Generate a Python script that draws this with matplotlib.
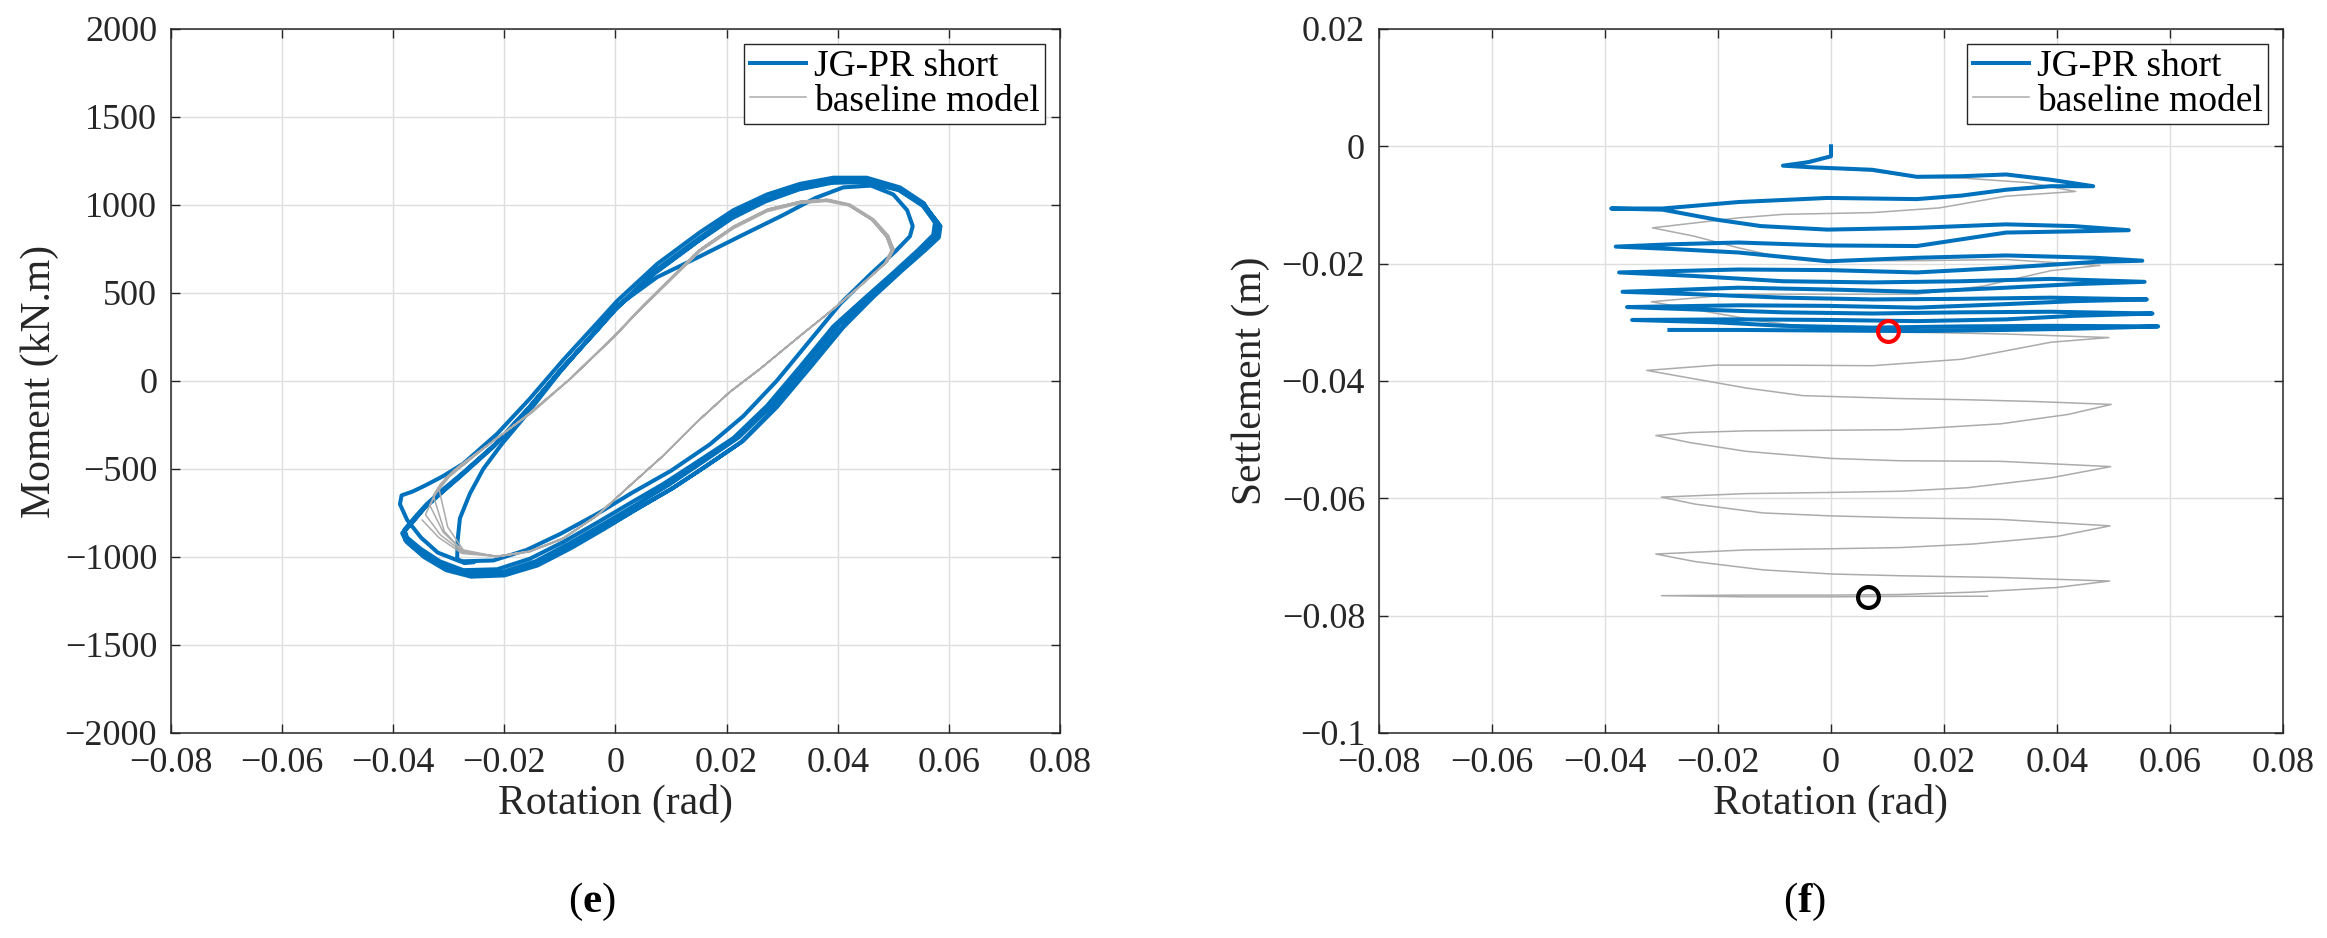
import numpy as np
import matplotlib
matplotlib.use('Agg')
import matplotlib.pyplot as plt
from matplotlib.ticker import FuncFormatter


plt.rcParams['font.family'] = ['Liberation Serif', 'DejaVu Serif']
plt.rcParams['mathtext.fontset'] = 'custom'
plt.rcParams['mathtext.rm'] = 'Liberation Serif'
plt.rcParams['mathtext.bf'] = 'Liberation Serif:bold'

blue = '#0072BD'
grey = '#ababab'
dark = '#262626'

rot_ticks = [-0.08, -0.06, -0.04, -0.02, 0, 0.02, 0.04, 0.06, 0.08]
mom_ticks = [-2000, -1500, -1000, -500, 0, 500, 1000, 1500, 2000]
set_ticks = [-0.1, -0.08, -0.06, -0.04, -0.02, 0, 0.02]


# (e) JG-PR short, moment vs rotation, one list pair per half cycle.
jg_e_rot_0 = [-0.0256, -0.0272, -0.0285, -0.0284, -0.0280, -0.0262, -0.0238, -0.0205, -0.0160, -0.0100, -0.0040,
              0.0003, 0.0075, 0.0152, 0.0224, 0.0300, 0.0360, 0.0410, 0.0460, 0.0500, 0.0525, 0.0535, 0.0530]
jg_e_mom_0 = [-1030, -1035, -1010, -900, -780, -640, -500, -360, -190, 50, 270,
              425, 590, 708, 822, 940, 1040, 1100, 1110, 1060, 970, 880, 822]
jg_e_rot_1 = [0.0505, 0.0460, 0.0405, 0.0350, 0.0290, 0.0230, 0.0170, 0.0100, 0.0030, -0.0030, -0.0100,
              -0.0160, -0.0220, -0.0280, -0.0320, -0.0350, -0.0375, -0.0388, -0.0385, -0.0365]
jg_e_mom_1 = [740, 610, 440, 230, 0, -200, -360, -510, -635, -750, -870,
              -960, -1020, -1025, -975, -890, -790, -700, -650, -628]
jg_e_rot_2 = [-0.0340, -0.0310, -0.0274, -0.0213, -0.0154, -0.0094, -0.0033, 0.0003, 0.0075, 0.0152, 0.0212,
              0.0273, 0.0332, 0.0392, 0.0452, 0.0512, 0.0555, 0.0575, 0.0572]
jg_e_mom_2 = [-590, -540, -470, -300, -100, 120, 330, 455, 665, 845, 970,
              1060, 1120, 1155, 1155, 1100, 1010, 900, 830]
jg_e_rot_3 = [0.0545, 0.0500, 0.0450, 0.0392, 0.0332, 0.0273, 0.0212, 0.0147, 0.0086, 0.0026, -0.0033,
              -0.0094, -0.0154, -0.0213, -0.0274, -0.0316, -0.0350, -0.0375, -0.0380]
jg_e_mom_3 = [745, 615, 475, 310, 80, -140, -325, -460, -585, -695, -805,
              -915, -1010, -1070, -1075, -1025, -955, -890, -845]
jg_e_rot_4 = [-0.0360, -0.0340, -0.0310, -0.0274, -0.0213, -0.0154, -0.0094, -0.0033, 0.0003, 0.0075, 0.0152,
              0.0212, 0.0273, 0.0332, 0.0392, 0.0452, 0.0512, 0.0555, 0.0582, 0.0580]
jg_e_mom_4 = [-770, -700, -615, -520, -350, -145, 80, 290, 420, 635, 815,
              945, 1035, 1100, 1135, 1138, 1090, 1005, 890, 830]
jg_e_rot_5 = [0.0555, 0.0510, 0.0460, 0.0402, 0.0342, 0.0283, 0.0222, 0.0157, 0.0096, 0.0036, -0.0023,
              -0.0084, -0.0144, -0.0203, -0.0264, -0.0310, -0.0350, -0.0378, -0.0382]
jg_e_mom_5 = [760, 630, 490, 320, 90, -135, -320, -460, -590, -705, -815,
              -925, -1025, -1085, -1095, -1050, -975, -905, -860]
jg_e_rot_6 = [-0.0362, -0.0342, -0.0312, -0.0278, -0.0218, -0.0158, -0.0098, -0.0037, 0.0000, 0.0072, 0.0150,
              0.0210, 0.0270, 0.0330, 0.0390, 0.0450, 0.0510, 0.0555, 0.0585, 0.0582]
jg_e_mom_6 = [-790, -715, -630, -535, -365, -160, 65, 275, 405, 620, 800,
              932, 1025, 1092, 1130, 1134, 1088, 1000, 880, 815]
jg_e_rot_7 = [0.0560, 0.0515, 0.0465, 0.0410, 0.0350, 0.0290, 0.0230, 0.0165, 0.0105, 0.0045, -0.0015,
              -0.0075, -0.0135, -0.0195, -0.0255, -0.0300, -0.0345, -0.0376, -0.0384]
jg_e_mom_7 = [750, 625, 480, 305, 75, -150, -340, -480, -605, -715, -825,
              -935, -1035, -1095, -1105, -1065, -990, -915, -865]
jg_e_rot_8 = [-0.0365, -0.0345, -0.0315, -0.0280, -0.0220, -0.0160, -0.0100, -0.0040, -0.0005, 0.0070, 0.0148,
              0.0210, 0.0270, 0.0330, 0.0390, 0.0450, 0.0510, 0.0553, 0.0580, 0.0578]
jg_e_mom_8 = [-800, -725, -640, -545, -375, -170, 55, 265, 395, 610, 792,
              925, 1020, 1088, 1126, 1130, 1084, 995, 880, 810]
jg_e_rot_9 = [0.0555, 0.0510, 0.0460, 0.0405, 0.0345, 0.0285, 0.0225, 0.0160, 0.0100, 0.0040, -0.0020,
              -0.0080, -0.0140, -0.0200, -0.0260, -0.0305, -0.0345, -0.0372, -0.0378]
jg_e_mom_9 = [745, 620, 475, 295, 65, -160, -350, -490, -615, -725, -840,
              -950, -1048, -1105, -1112, -1075, -1000, -925, -875]

# (e) baseline model.
base_e_rot_0 = [-0.0020, 0.0050, 0.0152, 0.0212, 0.0273, 0.0332, 0.0380, 0.0420, 0.0463, 0.0488, 0.0496]
base_e_mom_0 = [200, 420, 735, 865, 962, 1008, 1020, 995, 912, 815, 740]
base_e_rot_1 = [0.0484, 0.0437, 0.0389, 0.0329, 0.0257, 0.0203, 0.0144, 0.0083, 0.0023, -0.0036, -0.0097,
                -0.0157, -0.0216, -0.0274, -0.0302, -0.0318]
base_e_mom_1 = [668, 530, 400, 248, 60, -70, -240, -432, -602, -770, -898,
                -970, -996, -960, -830, -610]
base_e_rot_2 = [-0.0318, -0.0305, -0.0280, -0.0250, -0.0200, -0.0150, -0.0080, 0.0000, 0.0050, 0.0152, 0.0212,
                0.0273, 0.0332, 0.0380, 0.0420, 0.0463, 0.0490, 0.0500]
base_e_mom_2 = [-610, -550, -480, -410, -295, -180, 15, 255, 425, 740, 872,
                970, 1016, 1028, 1000, 915, 820, 745]
base_e_rot_3 = [0.0488, 0.0440, 0.0392, 0.0332, 0.0260, 0.0206, 0.0147, 0.0086, 0.0026, -0.0033, -0.0094,
                -0.0154, -0.0213, -0.0274, -0.0310, -0.0334]
base_e_mom_3 = [674, 538, 408, 255, 68, -62, -232, -425, -595, -765, -895,
                -969, -997, -969, -860, -708]
base_e_rot_4 = [-0.0334, -0.0320, -0.0295, -0.0262, -0.0208, -0.0159, -0.0082, 0.0000, 0.0050, 0.0152, 0.0212,
                0.0273, 0.0332, 0.0380, 0.0420, 0.0463, 0.0490, 0.0502]
base_e_mom_4 = [-708, -615, -525, -442, -312, -195, 10, 260, 430, 748, 878,
                975, 1020, 1031, 1003, 918, 822, 748]
base_e_rot_5 = [0.0490, 0.0442, 0.0394, 0.0334, 0.0262, 0.0208, 0.0149, 0.0088, 0.0028, -0.0031, -0.0092,
                -0.0152, -0.0211, -0.0274, -0.0315, -0.0342]
base_e_mom_5 = [680, 545, 415, 262, 75, -55, -225, -418, -588, -758, -890,
                -965, -995, -975, -875, -760]
base_e_rot_6 = [-0.0342, -0.0326, -0.0300, -0.0266, -0.0212, -0.0162, -0.0085, -0.0003, 0.0048, 0.0150, 0.0210,
                0.0271, 0.0330, 0.0378, 0.0418, 0.0460, 0.0487, 0.0497]
base_e_mom_6 = [-760, -650, -548, -458, -322, -202, 5, 255, 425, 742, 872,
                970, 1016, 1027, 1000, 916, 820, 745]
base_e_rot_7 = [0.0486, 0.0438, 0.0390, 0.0330, 0.0258, 0.0204, 0.0145, 0.0084, 0.0024, -0.0035, -0.0096,
                -0.0156, -0.0215, -0.0276, -0.0308, -0.0328]
base_e_mom_7 = [670, 534, 404, 250, 62, -68, -238, -430, -600, -770, -900,
                -972, -999, -965, -855, -650]
base_e_rot_8 = [-0.0328, -0.0315, -0.0290, -0.0258, -0.0205, -0.0156, -0.0080, 0.0002, 0.0052, 0.0154, 0.0214,
                0.0275, 0.0334, 0.0382, 0.0422, 0.0465, 0.0492, 0.0500]
base_e_mom_8 = [-650, -585, -505, -430, -305, -188, 15, 265, 435, 752, 882,
                978, 1022, 1033, 1005, 920, 825, 750]
base_e_rot_9 = [0.0489, 0.0441, 0.0393, 0.0333, 0.0261, 0.0207, 0.0148, 0.0087, 0.0027, -0.0032, -0.0093,
                -0.0153, -0.0212, -0.0276, -0.0318, -0.0348]
base_e_mom_9 = [676, 540, 410, 258, 70, -60, -230, -422, -592, -762, -893,
                -968, -998, -980, -890, -790]


# (f) JG-PR short, settlement vs rotation (one line per half cycle).
jg_f_rot = [0.0, 0.0, -0.0040, -0.0085,
            -0.0030, 0.0073, 0.0152, 0.0231, 0.0310, 0.0389, 0.0464,
            0.0389, 0.0310, 0.0231, 0.0152, -0.0006, -0.0164, -0.0298, -0.0389,
            -0.0298, -0.0203, -0.0124, -0.0006, 0.0152, 0.0310, 0.0429, 0.0527,
            0.0429, 0.0310, 0.0152, -0.0006, -0.0164, -0.0282, -0.0381,
            -0.0282, -0.0164, -0.0006, 0.0152, 0.0310, 0.0468, 0.0551,
            0.0468, 0.0310, 0.0152, -0.0006, -0.0164, -0.0375,
            -0.0243, -0.0085, 0.0073, 0.0231, 0.0389, 0.0555,
            0.0429, 0.0310, 0.0152, -0.0006, -0.0164, -0.0369,
            -0.0243, -0.0085, 0.0073, 0.0231, 0.0389, 0.0559,
            0.0429, 0.0310, 0.0152, -0.0006, -0.0164, -0.0361,
            -0.0243, -0.0085, 0.0073, 0.0231, 0.0389, 0.0569,
            0.0429, 0.0310, 0.0152, -0.0006, -0.0164, -0.0352,
            -0.0203, -0.0085, 0.0073, 0.0231, 0.0389, 0.0579,
            0.0429, 0.0310, 0.0152, -0.0006, -0.0164, -0.0286]
jg_f_set = [0.0, -0.0017, -0.0027, -0.0033,
            -0.0036, -0.0040, -0.0052, -0.0051, -0.0048, -0.0057, -0.0068,
            -0.0068, -0.0074, -0.0084, -0.0090, -0.0088, -0.0095, -0.0106, -0.0106,
            -0.0108, -0.0125, -0.0136, -0.0142, -0.0139, -0.0133, -0.0136, -0.0143,
            -0.0145, -0.0147, -0.0170, -0.0169, -0.0164, -0.0167, -0.0171,
            -0.0175, -0.0181, -0.0196, -0.0190, -0.0186, -0.0190, -0.0195,
            -0.0197, -0.0207, -0.0215, -0.0211, -0.0210, -0.0215,
            -0.0221, -0.0230, -0.0232, -0.0230, -0.0226, -0.0231,
            -0.0235, -0.0241, -0.0248, -0.0244, -0.0241, -0.0248,
            -0.0252, -0.0258, -0.0261, -0.0260, -0.0258, -0.0261,
            -0.0264, -0.0269, -0.0275, -0.0272, -0.0271, -0.0274,
            -0.0278, -0.0283, -0.0285, -0.0283, -0.0282, -0.0285,
            -0.0289, -0.0295, -0.0298, -0.0296, -0.0295, -0.0296,
            -0.0300, -0.0306, -0.0309, -0.0307, -0.0306, -0.0307,
            -0.0311, -0.0313, -0.0315, -0.0314, -0.0313, -0.0313]

# (f) baseline model.
base_f_rot = [0.0, 0.0, -0.0080, -0.0020, 0.0070, 0.0150, 0.0231, 0.0350, 0.0433,
              0.0310, 0.0192, 0.0073, -0.0085, -0.0164, -0.0316,
              -0.0243, -0.0164, -0.0085, -0.0006, 0.0152, 0.0310, 0.0476,
              0.0389, 0.0271, 0.0152, -0.0006, -0.0164, -0.0318,
              -0.0243, -0.0124, -0.0006, 0.0152, 0.0310, 0.0492,
              0.0389, 0.0231, 0.0073, -0.0085, -0.0203, -0.0326,
              -0.0250, -0.0150, -0.0050, 0.0122, 0.0241, 0.0360, 0.0496,
              0.0420, 0.0301, 0.0182, 0.0122, 0.0, -0.0150, -0.0250, -0.0310,
              -0.0250, -0.0150, 0.0, 0.0122, 0.0301, 0.0495,
              0.0390, 0.0241, 0.0122, 0.0, -0.0150, -0.0300,
              -0.0240, -0.0120, 0.0, 0.0122, 0.0300, 0.0494,
              0.0400, 0.0250, 0.0122, 0.0, -0.0150, -0.0310,
              -0.0240, -0.0120, 0.0, 0.0122, 0.0300, 0.0493,
              0.0400, 0.0250, 0.0122, 0.0, -0.0150, -0.0300,
              -0.0150, 0.0, 0.0150, 0.0277]
base_f_set = [0.0, -0.0017, -0.0033, -0.0037, -0.0042, -0.0053, -0.0054, -0.0062, -0.0077,
              -0.0085, -0.0105, -0.0113, -0.0116, -0.0122, -0.0139,
              -0.0153, -0.0173, -0.0190, -0.0195, -0.0195, -0.0193, -0.0203,
              -0.0212, -0.0238, -0.0252, -0.0252, -0.0252, -0.0265,
              -0.0278, -0.0298, -0.0312, -0.0317, -0.0320, -0.0326,
              -0.0334, -0.0363, -0.0374, -0.0373, -0.0373, -0.0382,
              -0.0395, -0.0412, -0.0425, -0.0430, -0.0432, -0.0435, -0.0440,
              -0.0457, -0.0473, -0.0480, -0.0483, -0.0484, -0.0485, -0.0488, -0.0493,
              -0.0505, -0.0520, -0.0532, -0.0536, -0.0537, -0.0546,
              -0.0565, -0.0582, -0.0588, -0.0590, -0.0592, -0.0598,
              -0.0610, -0.0625, -0.0630, -0.0633, -0.0636, -0.0647,
              -0.0665, -0.0678, -0.0684, -0.0686, -0.0688, -0.0695,
              -0.0708, -0.0722, -0.0729, -0.0732, -0.0735, -0.0741,
              -0.0752, -0.0760, -0.0764, -0.0765, -0.0765, -0.0766,
              -0.0768, -0.0768, -0.0767, -0.0767]

red_mark = (0.0101, -0.0315)
black_mark = (0.0065, -0.0768)


def join(*parts):
    return np.concatenate([np.asarray(p, dtype=float) for p in parts])


jg_e_rot = join(jg_e_rot_0, jg_e_rot_1, jg_e_rot_2, jg_e_rot_3, jg_e_rot_4,
                jg_e_rot_5, jg_e_rot_6, jg_e_rot_7, jg_e_rot_8, jg_e_rot_9)
jg_e_mom = join(jg_e_mom_0, jg_e_mom_1, jg_e_mom_2, jg_e_mom_3, jg_e_mom_4,
                jg_e_mom_5, jg_e_mom_6, jg_e_mom_7, jg_e_mom_8, jg_e_mom_9)
base_e_rot = join(base_e_rot_0, base_e_rot_1, base_e_rot_2, base_e_rot_3, base_e_rot_4,
                  base_e_rot_5, base_e_rot_6, base_e_rot_7, base_e_rot_8, base_e_rot_9)
base_e_mom = join(base_e_mom_0, base_e_mom_1, base_e_mom_2, base_e_mom_3, base_e_mom_4,
                  base_e_mom_5, base_e_mom_6, base_e_mom_7, base_e_mom_8, base_e_mom_9)


def fmt(v, pos):
    s = '%g' % round(v, 6)
    return s.replace('-', '\u2212')


def style(ax, yticks):
    ax.set_xlim(-0.08, 0.08)
    ax.set_xticks(rot_ticks)
    ax.set_yticks(yticks)
    ax.set_ylim(min(yticks), max(yticks))
    ax.xaxis.set_major_formatter(FuncFormatter(fmt))
    ax.yaxis.set_major_formatter(FuncFormatter(fmt))
    ax.grid(True, color='#dedede', linewidth=1.0)
    ax.set_axisbelow(True)
    ax.tick_params(direction='in', length=6.5, width=1.0, color=dark,
                   top=True, right=True, labelsize=26, labelcolor=dark, pad=10)
    for s in ax.spines.values():
        s.set_color(dark)
        s.set_linewidth(1.1)
    ax.set_xlabel('Rotation (rad)', fontsize=30, color=dark, labelpad=3)


def add_legend(ax):
    leg = ax.legend(loc='upper right', fontsize=27, handlelength=1.5, handletextpad=0.2,
                    borderpad=0.15, labelspacing=0.0, borderaxespad=0.4,
                    fancybox=False, framealpha=1, edgecolor=dark)
    leg.get_frame().set_linewidth(1.0)


fig = plt.figure(figsize=(23.27, 9.38), dpi=100)
ax1 = fig.add_axes([0.0735, 0.2186, 0.3820, 0.7505])
ax2 = fig.add_axes([0.5926, 0.2186, 0.3885, 0.7505])

# (e) moment - rotation
ax1.plot(jg_e_rot, jg_e_mom, color=blue, linewidth=2.9, label='JG-PR short', zorder=3)
ax1.plot(base_e_rot, base_e_mom, color=grey, linewidth=1.1, label='baseline model', zorder=4)
style(ax1, mom_ticks)
ax1.set_ylabel('Moment (kN.m)', fontsize=30, color=dark, labelpad=4)
add_legend(ax1)

# (f) settlement - rotation
ax2.plot(jg_f_rot, jg_f_set, color=blue, linewidth=2.9, label='JG-PR short', zorder=3)
ax2.plot(base_f_rot, base_f_set, color=grey, linewidth=1.1, label='baseline model', zorder=2)
ax2.plot(*red_mark, marker='o', markersize=15, markerfacecolor='none',
         markeredgecolor='#ff0000', markeredgewidth=3, zorder=5)
ax2.plot(*black_mark, marker='o', markersize=15, markerfacecolor='none',
         markeredgecolor='black', markeredgewidth=3, zorder=5)
style(ax2, set_ticks)
ax2.set_ylabel('Settlement (m)', fontsize=30, color=dark, labelpad=8)
add_legend(ax2)

fig.text(592 / 2327, 1 - 902 / 938, r'$\mathrm{(}\mathbf{e}\mathrm{)}$', fontsize=31,
         ha='center', va='center')
fig.text(1805 / 2327, 1 - 902 / 938, r'$\mathrm{(}\mathbf{f}\mathrm{)}$', fontsize=31,
         ha='center', va='center')

fig.savefig('out.png', dpi=100)
